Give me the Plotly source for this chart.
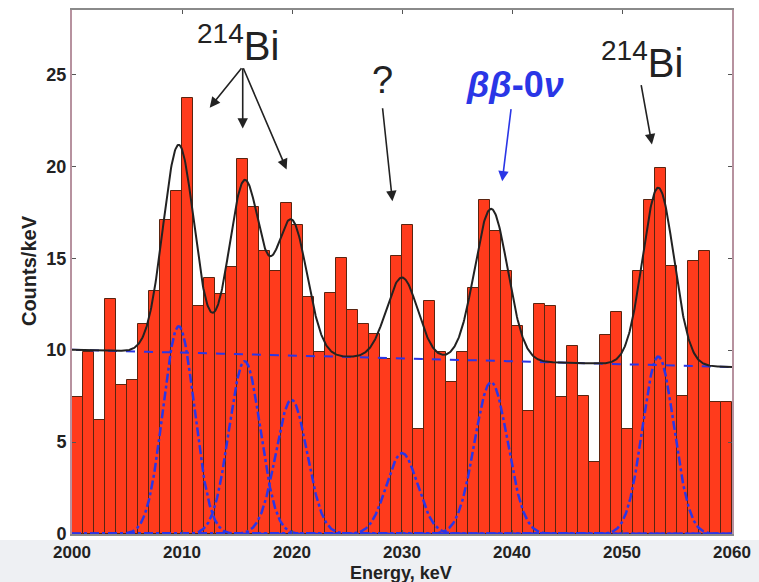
import numpy as np
import plotly.graph_objects as go

# Histogram: 1 keV bins from 2000 to 2060 keV
bin_left = list(range(2000, 2060))
counts = [7.45, 9.9, 6.2, 12.8, 8.1, 8.4, 11.4, 13.2, 17.1, 18.65,
          23.7, 12.4, 13.9, 13.05, 14.5, 20.4, 17.8, 15.4, 14.3, 18.0,
          16.8, 12.9, 9.9, 13.1, 15.0, 12.2, 11.4, 10.9, 9.5, 15.1,
          16.8, 5.7, 12.7, 9.9, 8.26, 9.9, 13.4, 18.15, 16.5, 14.3,
          11.3, 6.7, 12.5, 12.4, 7.45, 10.25, 7.5, 3.9, 10.8, 12.1,
          5.7, 14.3, 18.15, 19.9, 14.6, 7.5, 14.85, 15.4, 7.2, 7.2]

# Fit components: linear background plus Gaussian lines
bg_start, bg_end = 10.02, 9.08          # counts/keV at 2000 and 2060 keV
peak_centres = [2009.7, 2015.7, 2019.95, 2030.0, 2038.1, 2053.3]
peak_heights = [11.3, 9.4, 7.3, 4.4, 8.26, 9.65]
peak_sigmas = [1.42, 1.42, 1.42, 1.42, 1.5, 1.42]

x_ticks = [2000, 2010, 2020, 2030, 2040, 2050, 2060]
y_ticks = [0, 5, 10, 15, 20, 25]

BAR_RED = "#ff3b1c"
BLUE = "#2a36e6"
FONT = "Liberation Sans, Arial, sans-serif"

e = np.linspace(2000, 2060, 1201)
background = bg_start + (bg_end - bg_start) * (e - 2000) / 60.0
gauss = [h * np.exp(-0.5 * ((e - c) / s) ** 2)
         for c, h, s in zip(peak_centres, peak_heights, peak_sigmas)]
fit_total = background + np.sum(gauss, axis=0)

fig = go.Figure()

fig.add_trace(go.Bar(
    x=[b + 0.5 for b in bin_left], y=counts, width=1.0,
    marker=dict(color=BAR_RED, line=dict(color="#5a2410", width=1)),
    showlegend=False, hoverinfo="x+y",
))

for g in gauss:
    fig.add_trace(go.Scatter(
        x=e, y=g, mode="lines", showlegend=False,
        line=dict(color=BLUE, width=2.5, dash="dashdot"),
    ))

fig.add_trace(go.Scatter(
    x=e, y=background, mode="lines", showlegend=False,
    line=dict(color=BLUE, width=2, dash="dash"),
))

fig.add_trace(go.Scatter(
    x=e, y=fit_total, mode="lines", showlegend=False,
    line=dict(color="#222222", width=2),
))

x_tick_font = dict(family=FONT, size=17, color="#222222", weight="bold")
y_tick_font = dict(family=FONT, size=18, color="#222222", weight="bold")

fig.update_xaxes(
    range=[2000, 2060], tickvals=x_ticks, ticktext=[str(v) for v in x_ticks],
    ticks="inside", ticklen=4, tickcolor="#555555", mirror="ticks",
    showline=True, linecolor="#8a8a8a", linewidth=2,
    showgrid=False, zeroline=False, tickfont=x_tick_font,
    ticklabelstandoff=2,
)
fig.update_yaxes(
    range=[0, 28.5], tickvals=y_ticks, ticktext=[str(v) for v in y_ticks],
    ticks="inside", ticklen=4, tickcolor="#555555", mirror="ticks",
    showline=True, linecolor="#b7929f", linewidth=2,
    showgrid=False, zeroline=False, tickfont=y_tick_font,
)

# light band behind the energy axis labels
fig.add_shape(type="rect", xref="paper", yref="paper",
              x0=-0.2, x1=1.1, y0=-0.0114, y1=-0.095,
              fillcolor="#eef0f3", line=dict(width=0), layer="below")

ann_font = dict(family=FONT, color="#222222")

annotations = [
    dict(text="Energy, keV", xref="paper", yref="paper", x=0.499, y=-0.075,
         xanchor="center", yanchor="middle", showarrow=False,
         font=dict(size=18, color="#222222", weight="bold", family=FONT)),
    dict(text="Counts/keV", xref="paper", yref="paper", x=-0.065, y=0.502,
         xanchor="center", yanchor="middle", textangle=-90, showarrow=False,
         font=dict(size=20, color="#222222", weight="bold", family=FONT)),
    dict(text="<sup>214</sup>Bi", x=2015.06, y=26.72, showarrow=False,
         font=dict(size=40, **ann_font)),
    dict(text="?", x=2028.22, y=24.7, showarrow=False,
         font=dict(size=38, **ann_font)),
    dict(text="<i>ββ</i>-0<i>ν</i>", x=2040.25, y=24.44, showarrow=False,
         font=dict(size=36, color=BLUE, weight="bold", family=FONT)),
    dict(text="<sup>214</sup>Bi", x=2051.8, y=25.8, showarrow=False,
         font=dict(size=40, **ann_font)),
]

# arrows: (tail x, tail y, head x, head y, colour)
arrows = [
    (2015.52, 25.41, 2012.52, 23.19, "#222222"),
    (2015.52, 25.41, 2015.52, 22.05, "#222222"),
    (2015.52, 25.41, 2019.51, 19.83, "#222222"),
    (2028.22, 23.24, 2029.13, 18.10, "#222222"),
    (2039.93, 23.19, 2039.11, 19.18, BLUE),
    (2051.72, 24.49, 2052.72, 21.19, "#222222"),
]
for tx, ty, hx, hy, col in arrows:
    annotations.append(dict(
        x=hx, y=hy, ax=tx, ay=ty, xref="x", yref="y", axref="x", ayref="y",
        text="", showarrow=True, arrowhead=2, arrowsize=1.3, arrowwidth=1.6,
        arrowcolor=col,
    ))

fig.update_layout(
    width=759, height=582,
    margin=dict(l=72, r=26, t=8, b=48),
    paper_bgcolor="white", plot_bgcolor="white",
    bargap=0, annotations=annotations,
)

fig.write_html("out.html")
